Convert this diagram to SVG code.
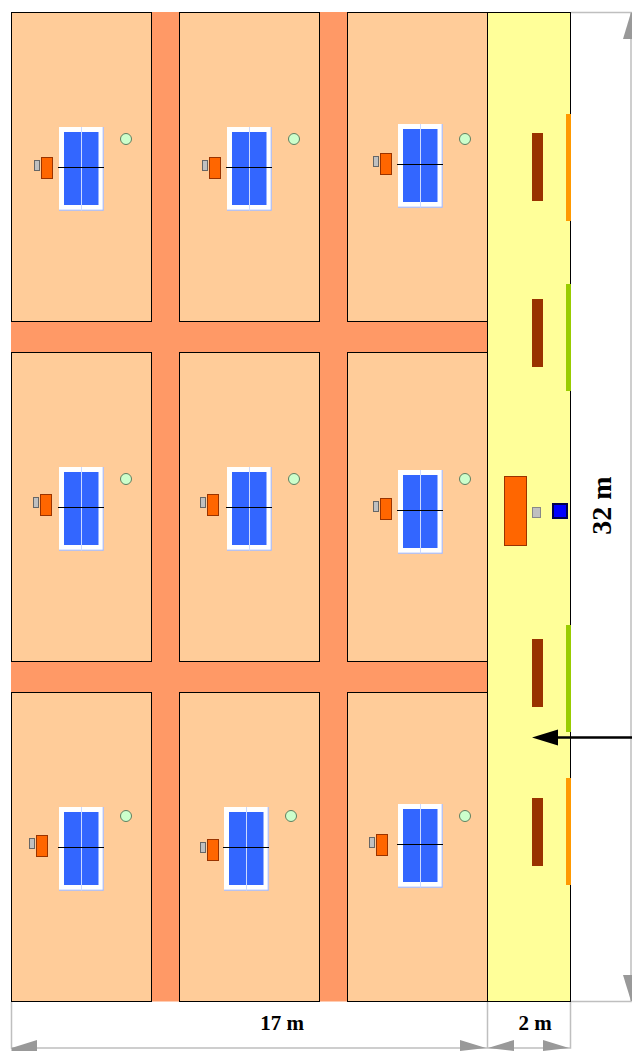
<svg xmlns="http://www.w3.org/2000/svg" width="632" height="1051" viewBox="0 0 632 1051">
<style>
.cell{fill:#ffcc99;stroke:#000;stroke-width:1}
.road{fill:#ff9966;stroke:none}
.dim{fill:none;stroke:#bfbfbf;stroke-width:1.5}
.head{fill:#999;stroke:none}
.lbl{font-family:"Liberation Serif","Times New Roman",serif;font-weight:bold;font-size:21px;fill:#000}
.lbl-big{font-size:28px}
.chair{fill:#993300;stroke:none}
.post{fill:#ff6600;stroke:#993300;stroke-width:1}
.gray{fill:#c0c0c0;stroke:#666;stroke-width:1}
</style>
<defs>
<g id="table">
<rect x="0" y="0" width="44.5" height="83.5" fill="#fff"/>
<path d="M0 83.200H44.500M44.200 0V83.500" fill="none" stroke="#99b3ff" stroke-width="1"/>
<rect x="5" y="5" width="34.500" height="73" fill="#3366ff"/>
<rect x="22" y="0" width="1" height="83.500" fill="#ccd9ff"/>
<path d="M-1 40.500H45" fill="none" stroke="#000" stroke-width="1"/>
</g>
<g id="ball"><circle cx="0" cy="0" r="5.500" fill="#ccffcc" stroke="#5f7f5f" stroke-width="1"/></g>
<g id="umpire">
<rect x="7.500" y="0.500" width="11" height="21" class="post"/>
<rect x="0.500" y="3.500" width="5" height="10" class="gray"/>
</g>
</defs>
<rect x="487" y="12" width="83.500" height="989.500" fill="#ffff99"/>
<rect x="11" y="12" width="476" height="989.500" class="road"/>
<g id="cell-1-1"><rect class="cell" x="11.500" y="12.500" width="140" height="309"/><use href="#table" x="59" y="127"/><use href="#ball" x="126" y="139"/><use href="#umpire" x="34" y="157"/></g>
<g id="cell-1-2"><rect class="cell" x="179.500" y="12.500" width="140" height="309"/><use href="#table" x="227" y="127"/><use href="#ball" x="294" y="139"/><use href="#umpire" x="202" y="157"/></g>
<g id="cell-1-3"><rect class="cell" x="347.500" y="12.500" width="140" height="309"/><use href="#table" x="398" y="124"/><use href="#ball" x="465" y="139"/><use href="#umpire" x="373" y="153"/></g>
<g id="cell-2-1"><rect class="cell" x="11.500" y="352.500" width="140" height="309"/><use href="#table" x="59" y="467"/><use href="#ball" x="126" y="479"/><use href="#umpire" x="33" y="494"/></g>
<g id="cell-2-2"><rect class="cell" x="179.500" y="352.500" width="140" height="309"/><use href="#table" x="227" y="467"/><use href="#ball" x="294" y="479"/><use href="#umpire" x="200" y="494"/></g>
<g id="cell-2-3"><rect class="cell" x="347.500" y="352.500" width="140" height="309"/><use href="#table" x="398" y="470"/><use href="#ball" x="465" y="479"/><use href="#umpire" x="373" y="498"/></g>
<g id="cell-3-1"><rect class="cell" x="11.500" y="692.500" width="140" height="309"/><use href="#table" x="59" y="807"/><use href="#ball" x="126" y="816"/><use href="#umpire" x="29" y="835"/></g>
<g id="cell-3-2"><rect class="cell" x="179.500" y="692.500" width="140" height="309"/><use href="#table" x="224" y="807"/><use href="#ball" x="291" y="816"/><use href="#umpire" x="200" y="839"/></g>
<g id="cell-3-3"><rect class="cell" x="347.500" y="692.500" width="140" height="309"/><use href="#table" x="398" y="804"/><use href="#ball" x="465" y="816"/><use href="#umpire" x="369" y="834"/></g>
<g id="walkway">
<rect x="487.500" y="12.500" width="83" height="989" fill="none" stroke="#000" stroke-width="1"/>
<rect x="532" y="133" width="11" height="68" class="chair"/>
<rect x="532" y="299" width="11" height="68" class="chair"/>
<rect x="532" y="639" width="11" height="68" class="chair"/>
<rect x="532" y="798" width="11" height="68" class="chair"/>
<rect x="566" y="114" width="5" height="107" fill="#ff9900"/>
<rect x="566" y="284" width="5" height="107" fill="#99cc00"/>
<rect x="566" y="625" width="5" height="107" fill="#99cc00"/>
<rect x="566" y="778" width="5" height="107" fill="#ff9900"/>
<rect x="504.500" y="476.500" width="22" height="69" class="post"/>
<rect x="532.500" y="507.500" width="8" height="10" fill="#c0c0c0" stroke="#888" stroke-width="1"/>
<rect x="553" y="504" width="14" height="14" fill="#0000ff" stroke="#000050" stroke-width="2"/>
</g>
<g id="connectors">
<path class="dim" d="M11.500 1002V1048H570.500V1002M487.500 1002V1048"/>
<path class="dim" d="M571 12.500H631V1001.500H571"/>
<path class="head" d="M11.500 1048L37 1040V1051H11.500Z"/>
<path class="head" d="M486 1048L460 1040V1051H460Z"/>
<path class="head" d="M488 1048L514 1040V1051H514Z"/>
<path class="head" d="M569 1048L543 1040V1051H543Z"/>
<path class="head" d="M631 12.500L623 39H632V12.500Z"/>
<path class="head" d="M631 1001L623 975H632V1001Z"/>
<path d="M632 737.500H555" fill="none" stroke="#000" stroke-width="2.500"/>
<path d="M532 737.500L558 729.500V745.500Z" fill="#000"/>
</g>
<text class="lbl" x="282" y="1030" text-anchor="middle">17 m</text>
<text class="lbl" x="535" y="1030" text-anchor="middle">2 m</text>
<text class="lbl lbl-big" transform="translate(611 505.500) rotate(-90)" text-anchor="middle">32 m</text>
</svg>
